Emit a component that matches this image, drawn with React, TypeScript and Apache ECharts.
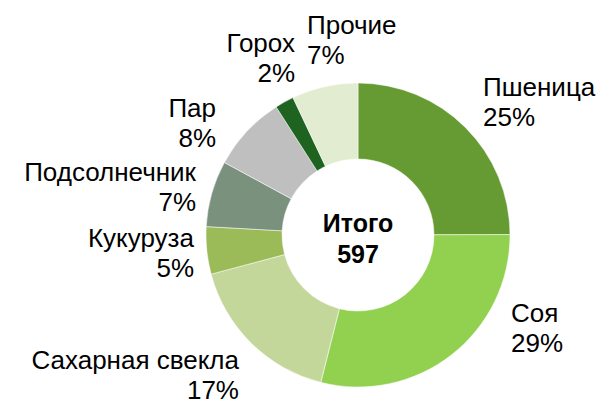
import React, { useEffect, useRef } from "react";
import * as echarts from "echarts";

const categories = ["Пшеница", "Соя", "Сахарная свекла", "Кукуруза", "Подсолнечник", "Пар", "Горох", "Прочие"];
const values = [149, 173, 101, 30, 42, 48, 12, 42];
const colors = ["#669b33", "#92d050", "#c4d79b", "#9bbb59", "#7a917d", "#bfbfbf", "#1f6320", "#e2ecd0"];
const totalLabel = "Итого";
const total = 597;

// label anchor: [x of aligned edge, vertical centre, align]
const labelAnchors: [number, number, string][] = [
  [483, 102, "left"],
  [511, 328, "left"],
  [239, 375, "right"],
  [194, 253, "right"],
  [196, 187, "right"],
  [216, 123, "right"],
  [295, 58, "right"],
  [307, 40, "left"],
];

export default function App() {
  const ref = useRef<HTMLDivElement>(null);
  useEffect(() => {
    document.body.style.margin = "0";
    const chart = echarts.init(ref.current!, null, { renderer: "svg" });
    const sum = values.reduce((a, b) => a + b, 0);
    chart.setOption({
      animation: false,
      backgroundColor: "#ffffff",
      graphic: [
        {
          type: "text",
          x: 358,
          y: 238,
          style: {
            text: `${totalLabel}\n${total}`,
            font: "bold 25px 'Liberation Sans', Arial, sans-serif",
            fill: "#000",
            textAlign: "center",
            textVerticalAlign: "middle",
            lineHeight: 31,
          },
        },
      ],
      series: [
        {
          type: "pie",
          center: [358, 235],
          radius: [76, 152],
          startAngle: 90,
          clockwise: true,
          avoidLabelOverlap: false,
          data: categories.map((c, i) => ({ name: c, value: values[i], itemStyle: { color: colors[i] } })),
          itemStyle: { borderColor: "#ffffff", borderWidth: 0.5 },
          label: {
            show: true,
            position: "outside",
            formatter: (p: any) => `${p.name}\n${Math.round((p.value / sum) * 100)}%`,
            fontFamily: "'Liberation Sans', Arial, sans-serif",
            fontSize: 26,
            lineHeight: 30,
            color: "#000",
          },
          labelLine: { show: false },
          labelLayout: (p: any) => {
            const a = labelAnchors[p.dataIndex];
            return { x: a[0], y: a[1], align: a[2], verticalAlign: "middle" };
          },
        },
      ],
    });
    return () => chart.dispose();
  }, []);
  return <div ref={ref} style={{ width: 603, height: 406 }} />;
}
